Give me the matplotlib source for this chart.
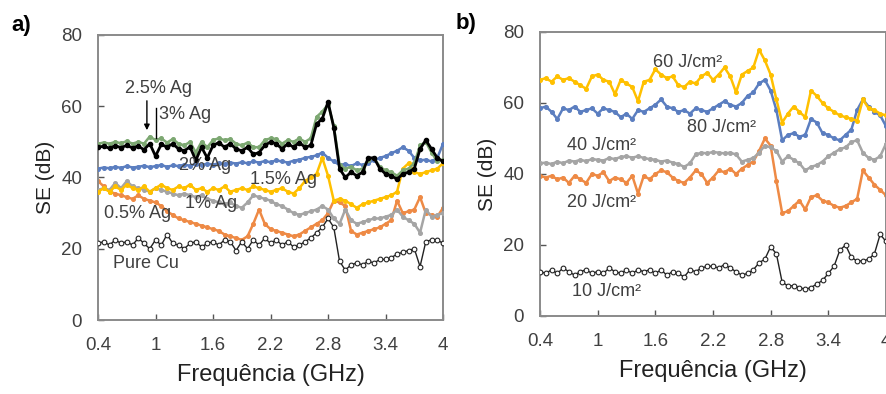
import numpy as np
import matplotlib
matplotlib.use("Agg")
import matplotlib.pyplot as plt

plt.rcParams['font.family'] = ['Liberation Sans', 'DejaVu Sans']

freq = np.round(np.arange(61) * 0.06 + 0.4, 2)
xticks = [0.4, 1, 1.6, 2.2, 2.8, 3.4, 4]
xticklabels = ["0.4", "1", "1.6", "2.2", "2.8", "3.4", "4"]
yticks = [0, 20, 40, 60, 80]

# ---------- panel a ----------
a_3ag = [48.5, 48.8, 48.2, 48.9, 48.4, 49.0, 48.3, 48.8, 47.8, 49.5,
         46.0, 49.3, 48.5, 49.5, 48.0, 47.5, 48.6, 44.8, 48.5, 45.5,
         49.0, 49.8, 48.5, 49.5, 48.0, 47.5, 48.5, 46.5, 47.0, 49.0,
         50.0, 49.5, 48.0, 49.5, 48.5, 49.8, 48.5, 49.0, 55.0, 56.5,
         61.2, 54.0, 42.5, 40.0, 41.5, 40.5, 41.5, 45.5, 45.5, 42.5,
         41.0, 40.5, 39.5, 41.0, 41.5, 42.5, 48.0, 50.5, 48.0, 45.5, 44.5]
a_25ag = [49.5, 49.8, 49.5, 50.0, 49.6, 50.2, 49.5, 50.0, 49.5, 51.5,
          50.5, 51.0, 49.8, 50.8, 49.5, 49.0, 50.0, 47.0, 50.0, 48.5,
          50.5, 51.0, 50.5, 50.8, 49.5, 49.0, 49.8, 48.5, 48.5, 50.5,
          51.0, 50.8, 49.5, 50.5, 50.0, 51.0, 50.0, 51.0, 57.0, 58.5,
          60.5, 54.5, 43.5, 42.5, 43.0, 42.0, 42.5, 45.0, 45.5, 43.0,
          42.0, 41.5, 40.5, 42.0, 42.5, 44.0, 49.0, 50.0, 47.0, 44.5, 45.0]
a_2ag = [42.5, 42.8, 42.6, 43.0, 42.7, 43.2, 42.8, 43.0, 43.3, 42.9,
         43.2, 43.5, 43.0, 43.4, 43.2, 43.6, 43.3, 43.8, 43.5, 43.9,
         43.6, 44.0, 43.7, 44.2, 43.9, 44.3, 44.0, 44.5, 44.2, 44.6,
         44.3, 44.8, 44.5, 44.2, 44.7, 45.0, 45.5, 45.8, 46.2, 47.0,
         45.5, 44.5, 43.5, 43.8, 43.2, 44.0, 43.5, 44.2, 44.8, 45.5,
         46.0, 46.8, 47.5, 48.5, 47.5, 45.5, 44.8, 45.0, 44.5, 45.5, 49.5]
a_15ag = [36.0, 37.0, 36.0, 37.5, 36.5, 38.0, 37.0, 36.5, 37.5, 36.0,
          37.0, 38.0, 37.0, 36.5, 37.5, 37.0, 38.0, 36.5, 37.0, 36.0,
          37.0, 36.5, 37.5, 36.0, 36.5, 37.0, 36.5, 37.5, 37.0, 36.5,
          36.0, 36.5, 37.0, 36.0, 35.5, 37.0, 39.0, 40.0, 41.0, 45.5,
          40.5, 33.5, 34.0, 33.5, 32.5, 31.5, 32.5, 33.0, 33.5, 34.0,
          34.5, 35.0, 36.0, 42.5, 44.0, 41.5, 41.0, 41.5, 42.0, 42.5, 44.0]
a_1ag = [36.5, 37.0, 36.5, 38.5, 37.0, 39.0, 37.5, 37.0, 36.5, 36.0,
         37.0, 36.5, 36.0, 35.5, 35.0, 35.5, 35.0, 34.5, 35.0, 34.0,
         33.5, 33.0, 32.5, 33.0, 32.0, 31.5, 33.0, 35.0, 34.5, 34.0,
         33.5, 32.5, 32.0, 31.0, 30.0, 29.5, 30.0, 30.5, 31.0, 32.0,
         31.0, 28.5, 27.0, 31.0, 28.0, 27.0, 27.5, 28.0, 28.5, 28.5,
         29.0, 29.5, 31.0, 29.0, 28.0, 27.0, 24.5, 31.0, 29.0, 29.5, 30.0]
a_05ag = [39.0, 37.5, 36.0, 35.5, 35.0, 34.5, 34.0, 35.0, 34.0, 33.5,
          33.0, 32.0, 30.5, 29.5, 28.5, 28.0, 27.5, 27.0, 26.5, 26.0,
          25.5, 25.0, 24.0, 23.5, 23.0, 22.5, 23.5, 27.0, 31.0, 27.0,
          25.5, 25.0, 24.5, 24.0, 23.5, 24.0, 25.0, 26.0, 27.0, 28.0,
          30.0, 33.5, 33.0, 32.0, 25.0, 24.0, 24.5, 25.0, 25.5, 26.0,
          27.0, 28.0, 33.5, 30.0, 30.5, 31.0, 34.5, 30.0, 29.5, 29.0, 31.5]
a_cu = [21.5, 22.0, 21.0, 22.5, 21.5, 22.0, 21.0, 23.0, 21.5, 20.0,
        22.5, 21.0, 24.0, 21.5, 21.0, 20.0, 21.5, 22.0, 20.5, 21.5,
        22.0, 21.0, 22.5, 22.0, 19.5, 22.0, 20.0, 22.5, 21.0, 23.0,
        21.5, 22.5, 21.0, 22.0, 20.5, 21.0, 22.0, 23.0, 24.5, 26.0,
        28.5, 26.0, 16.5, 14.0, 15.5, 16.0, 15.5, 16.5, 16.0, 17.0,
        17.0, 17.5, 18.5, 19.0, 19.5, 20.0, 15.0, 22.0, 22.5, 22.5, 21.5]

# ---------- panel b ----------
b_60 = [66.5, 67.0, 66.0, 67.5, 66.5, 67.0, 66.0, 65.0, 64.0, 67.5,
        68.0, 66.5, 66.0, 62.5, 66.5, 65.5, 64.5, 60.5, 66.0, 66.5,
        69.5, 68.0, 67.0, 67.5, 65.0, 64.5, 66.0, 65.5, 67.5, 68.5,
        66.5, 68.0, 70.0, 67.5, 63.0, 68.0, 69.0, 70.0, 75.0, 72.0,
        68.0, 61.0, 54.5, 57.0, 59.0, 57.5, 56.0, 63.5, 62.0, 60.0,
        58.5, 57.5, 56.5, 56.0, 55.5, 55.0, 61.0, 58.5, 58.0, 57.0, 56.5]
b_80 = [58.5, 59.0, 57.5, 55.5, 58.5, 58.0, 59.0, 57.5, 58.0, 58.5,
        57.0, 58.5, 58.0, 57.5, 56.0, 57.0, 55.5, 58.0, 57.5, 58.5,
        59.5, 61.0, 59.0, 58.5, 57.5, 58.0, 57.0, 58.5, 58.0, 57.5,
        58.5, 59.5, 60.5, 59.5, 59.0, 60.0, 62.0, 63.0, 65.5, 66.5,
        63.5, 58.0, 49.5, 51.0, 51.5, 50.5, 51.0, 55.5, 54.5, 51.5,
        51.0, 50.0, 49.5, 51.0, 52.5, 58.0, 61.0, 59.0, 57.5, 56.5, 53.5]
b_40 = [43.0, 43.2, 42.8, 43.5, 43.0, 43.8, 43.5, 44.0, 43.6, 44.2,
        44.0, 43.8, 44.5, 44.2, 44.8, 45.0, 44.6, 45.0, 44.5, 44.2,
        44.0, 43.5, 43.8, 43.2, 42.8, 42.0, 43.0, 45.5, 46.0, 45.8,
        46.2, 46.0, 45.8, 46.0, 45.5, 43.5, 44.0, 44.5, 46.0, 48.0,
        47.5, 46.5, 43.5, 45.0, 44.0, 43.0, 41.0, 42.0, 42.5, 43.5,
        45.0, 46.0, 47.0, 47.5, 49.0, 49.5, 46.0, 44.5, 44.0, 45.0, 48.5]
b_20 = [39.5, 39.0, 39.5, 38.5, 39.0, 37.5, 39.5, 38.5, 37.5, 40.0,
        39.5, 40.5, 38.0, 39.0, 38.5, 37.5, 39.5, 34.5, 39.5, 38.5,
        40.0, 41.0, 40.5, 39.0, 38.0, 37.5, 39.0, 41.0, 40.0, 37.5,
        39.0, 41.0, 40.5, 41.5, 40.0, 41.5, 42.5, 43.5, 46.5, 50.0,
        48.0, 38.0, 29.0, 29.5, 31.0, 32.5, 30.0, 33.5, 34.0, 32.5,
        32.0, 31.0, 30.5, 31.0, 32.0, 33.0, 41.0, 39.0, 37.0, 35.5, 34.0]
b_10 = [12.5, 12.0, 13.0, 12.0, 13.5, 12.5, 11.5, 12.5, 13.0, 12.0,
        12.5, 12.0, 13.5, 12.5, 12.0, 13.0, 12.0, 13.0, 12.5, 13.0,
        12.0, 13.0, 11.5, 12.5, 12.0, 11.0, 13.0, 12.5, 13.5, 14.0,
        14.0, 13.5, 14.5, 13.5, 12.5, 11.5, 12.0, 13.0, 15.0, 16.0,
        19.5, 17.5, 9.5, 8.5, 8.5, 8.0, 7.5, 8.0, 9.0, 10.0,
        12.0, 14.0, 18.5, 20.0, 16.5, 15.5, 15.5, 16.0, 17.5, 23.0, 21.0]

YELLOW = "#FFC000"
BLUE = "#5B7EC0"
GRAY = "#A5A5A5"
ORANGE = "#EE8A45"
GREEN = "#7DA872"
TXT = "#404040"

fig = plt.figure(figsize=(8.87, 3.94), dpi=100)
axa = fig.add_axes([0.1105, 0.1878, 0.389, 0.7234])
axb = fig.add_axes([0.6088, 0.198, 0.390, 0.7208])

def filled(ax, y, c, z):
    ax.plot(freq, y, color=c, lw=1.8, marker='o', ms=2.6, mec=c, mfc=c, zorder=z)

def hollow(ax, y, z):
    ax.plot(freq, y, color='#222222', lw=1.0, marker='o', ms=3.4,
            mec='#222222', mfc='white', mew=0.8, zorder=z)

filled(axa, a_05ag, ORANGE, 2)
filled(axa, a_1ag, GRAY, 3)
filled(axa, a_15ag, YELLOW, 4)
filled(axa, a_2ag, BLUE, 5)
filled(axa, a_25ag, GREEN, 6)
axa.plot(freq, a_3ag, color='black', lw=2.0, marker='o', ms=3.0, zorder=7)
hollow(axa, a_cu, 8)

filled(axb, b_20, ORANGE, 2)
filled(axb, b_40, GRAY, 3)
filled(axb, b_80, BLUE, 4)
filled(axb, b_60, YELLOW, 5)
hollow(axb, b_10, 6)

for ax in (axa, axb):
    ax.set_xlim(0.4, 4.0)
    ax.set_ylim(0, 80)
    ax.set_xticks(xticks)
    ax.set_xticklabels(xticklabels)
    ax.set_yticks(yticks)
    ax.tick_params(direction='in', length=4, width=1, color='#555555',
                   labelsize=13.5, labelcolor=TXT)
    ax.tick_params(axis='x', pad=12.5)
    ax.tick_params(axis='y', pad=11.5)
    for s in ax.spines.values():
        s.set_color('#8a8a8a')
        s.set_linewidth(1.4)
    ax.set_xlabel("Frequência (GHz)", fontsize=17, color='#222222', labelpad=7)
    ax.set_ylabel("SE (dB)", fontsize=15, color='#222222', labelpad=4)

fs = 13
axa.text(0.68, 65.1, "2.5% Ag", fontsize=fs, color=TXT, va='center')
axa.annotate("", xy=(0.91, 52.5), xytext=(0.91, 62.3),
             arrowprops=dict(arrowstyle='-|>', color='black', lw=1.0, mutation_scale=8))
axa.plot([1.01, 1.01], [59.5, 51.0], color='black', lw=1.0, zorder=9)
axa.text(1.04, 57.8, "3% Ag", fontsize=fs, color=TXT, va='center')
axa.text(1.25, 43.5, "2% Ag", fontsize=fs, color=TXT, va='center', zorder=10)
axa.text(1.99, 39.3, "1.5% Ag", fontsize=fs, color=TXT, va='center', zorder=10)
axa.text(1.31, 32.6, "1% Ag", fontsize=fs, color=TXT, va='center', zorder=10)
axa.text(0.46, 29.8, "0.5% Ag", fontsize=fs, color=TXT, va='center', zorder=10)
axa.text(0.56, 16.0, "Pure Cu", fontsize=fs, color=TXT, va='center', zorder=10)

axb.text(1.58, 71.5, "60 J/cm²", fontsize=fs, color=TXT, va='center', zorder=10)
axb.text(1.93, 53.2, "80 J/cm²", fontsize=fs, color=TXT, va='center', zorder=10)
axb.text(0.68, 47.9, "40 J/cm²", fontsize=fs, color=TXT, va='center', zorder=10)
axb.text(0.68, 32.1, "20 J/cm²", fontsize=fs, color=TXT, va='center', zorder=10)
axb.text(0.73, 6.8, "10 J/cm²", fontsize=fs, color=TXT, va='center', zorder=10)

fig.text(11 / 887, 1 - 26 / 394, "a)", fontsize=16, fontweight='bold', va='center')
fig.text(456 / 887, 1 - 24 / 394, "b)", fontsize=16, fontweight='bold', va='center')

fig.savefig("out.png", dpi=100)
